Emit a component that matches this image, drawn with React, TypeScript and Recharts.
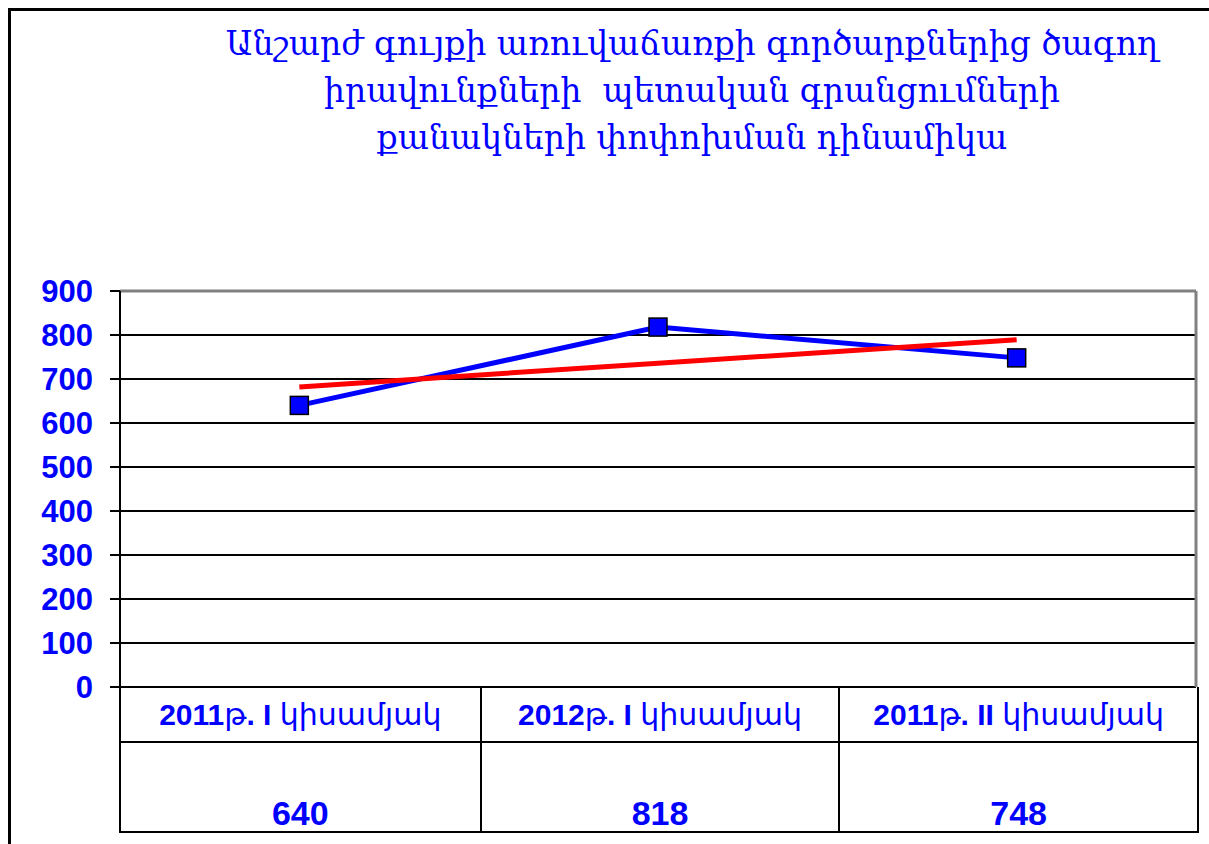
import React from 'react'
import { LineChart, Line, XAxis, YAxis, CartesianGrid, ReferenceLine } from 'recharts'

// ─── Data ─────────────────────────────────────────────────────────────────────

const TITLE_LINES = [
  'Անշարժ գույքի առուվաճառքի գործարքներից ծագող',
  'իրավունքների  պետական գրանցումների',
  'քանակների փոփոխման դինամիկա',
]

const CATEGORIES = ['2011թ. I կիսամյակ', '2012թ. I կիսամյակ', '2011թ. II կիսամյակ']
const VALUES = [640, 818, 748]
// linear trend line
const TREND = [682, 736, 789]
const Y_TICKS = [0, 100, 200, 300, 400, 500, 600, 700, 800, 900]

// ─── Layout ───────────────────────────────────────────────────────────────────

const W = 1209
const H = 844
const PLOT_LEFT = 120
const PLOT_RIGHT = 1196
const PLOT_TOP = 291
const PLOT_BOTTOM = 687
const TABLE_BOTTOM = 831
const ROW1_H = 56

const BLUE = '#0000FF'
const AXIS_FONT = '"Liberation Sans", Arial, "DejaVu Sans", sans-serif'

const chartData = CATEGORIES.map((name, i) => ({
  x: i,
  name,
  value: VALUES[i],
  trend: TREND[i],
}))

function SquareDot(props: { cx?: number; cy?: number; index?: number }) {
  const { cx, cy, index } = props
  if (cx == null || cy == null) return null
  return (
    <rect
      key={`dot-${index}`}
      x={cx - 9}
      y={cy - 9}
      width={18}
      height={18}
      fill={BLUE}
      stroke="#000"
      strokeWidth={1.5}
    />
  )
}

// Armenian letters come out thin in the original, digits stay bold
function MixedLabel({ text }: { text: string }) {
  const parts = text.match(/[\u0530-\u058F]+|[^\u0530-\u058F]+/g) || []
  return (
    <span>
      {parts.map((p, i) => (
        <span key={i} style={{ fontWeight: /[\u0530-\u058F]/.test(p) ? 'normal' : 'bold' }}>
          {p}
        </span>
      ))}
    </span>
  )
}

export default function App() {
  const tableW = PLOT_RIGHT - PLOT_LEFT
  return (
    <div
      style={{
        position: 'absolute',
        left: 0,
        top: 0,
        width: W,
        height: H,
        background: '#fff',
        overflow: 'hidden',
      }}
    >
      {/* outer frame (top + left only, rest is cropped) */}
      <div
        style={{
          position: 'absolute',
          left: 8,
          top: 8,
          width: W + 50,
          height: H + 50,
          borderTop: '3px solid #000',
          borderLeft: '3px solid #000',
        }}
      />

      {/* Title */}
      <div
        style={{
          position: 'absolute',
          left: 180,
          width: 1024,
          top: 20,
          textAlign: 'center',
          color: BLUE,
          fontFamily: '"DejaVu Serif", serif',
          fontSize: 33,
          lineHeight: '47px',
        }}
      >
        {TITLE_LINES.map((t, i) => (
          <div key={i} style={{ whiteSpace: 'pre' }}>{t}</div>
        ))}
      </div>

      <div style={{ position: 'absolute', left: 0, top: 0 }}>
        <LineChart
          width={W}
          height={H}
          data={chartData}
          margin={{ top: PLOT_TOP, right: W - PLOT_RIGHT, bottom: H - PLOT_BOTTOM, left: 0 }}
        >
          <CartesianGrid
            stroke="#000"
            strokeWidth={2}
            verticalValues={[0.5, 1.5]}
          />
          <XAxis
            dataKey="x"
            type="number"
            domain={[-0.5, 2.5]}
            ticks={[-0.5, 0.5, 1.5, 2.5]}
            height={0}
            tick={false}
            tickLine={false}
            axisLine={false}
          />
          <YAxis
            width={PLOT_LEFT}
            domain={[0, 900]}
            ticks={Y_TICKS}
            interval={0}
            tickSize={10}
            tickMargin={17}
            tickLine={{ stroke: '#000', strokeWidth: 2 }}
            axisLine={{ stroke: '#000', strokeWidth: 2 }}
            tick={{ fill: BLUE, fontSize: 31, fontWeight: 'bold', fontFamily: AXIS_FONT }}
          />
          <ReferenceLine y={900} stroke="#808080" strokeWidth={3} />
          <ReferenceLine x={2.5} stroke="#808080" strokeWidth={3} />
          <Line
            dataKey="value"
            stroke={BLUE}
            strokeWidth={5}
            dot={<SquareDot />}
            activeDot={false}
            isAnimationActive={false}
          />
          <Line
            dataKey="trend"
            stroke="#FF0000"
            strokeWidth={5}
            dot={false}
            activeDot={false}
            isAnimationActive={false}
          />
        </LineChart>
      </div>

      {/* Data table under the plot */}
      <div
        style={{
          position: 'absolute',
          left: PLOT_LEFT - 1,
          top: PLOT_BOTTOM,
          width: tableW,
          height: TABLE_BOTTOM - PLOT_BOTTOM,
          borderLeft: '2px solid #000',
          borderRight: '2px solid #000',
          borderBottom: '2px solid #000',
          display: 'grid',
          gridTemplateColumns: 'repeat(3, 1fr)',
          gridTemplateRows: `${ROW1_H}px 1fr`,
          color: BLUE,
          fontFamily: AXIS_FONT,
          fontWeight: 'bold',
        }}
      >
        {CATEGORIES.map((c, i) => (
          <div
            key={`c-${i}`}
            style={{
              borderLeft: i > 0 ? '2px solid #000' : 'none',
              borderBottom: '2px solid #000',
              display: 'flex',
              alignItems: 'center',
              justifyContent: 'center',
              fontSize: 30,
              whiteSpace: 'nowrap',
            }}
          >
            <MixedLabel text={c} />
          </div>
        ))}
        {VALUES.map((v, i) => (
          <div
            key={`v-${i}`}
            style={{
              borderLeft: i > 0 ? '2px solid #000' : 'none',
              display: 'flex',
              alignItems: 'flex-end',
              justifyContent: 'center',
              fontSize: 34,
              lineHeight: '36px',
            }}
          >
            {v}
          </div>
        ))}
      </div>
    </div>
  )
}
